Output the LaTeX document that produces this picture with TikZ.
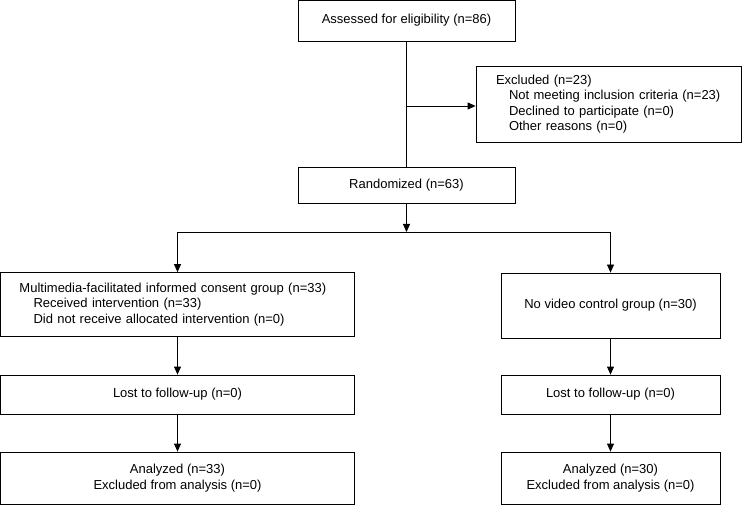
\documentclass[tikz,border=0pt]{standalone}
\usepackage{fontspec}
\setmainfont{Liberation Sans}
\usetikzlibrary{arrows.meta}
\begin{document}
\begin{tikzpicture}[x=1pt,y=-1pt,
  every node/.style={font=\fontsize{13}{15.5}\selectfont},
  box/.style={draw, line width=0.8pt, inner sep=0pt, anchor=center, align=center},
  line/.style={line width=0.8pt},
  arr/.style={line width=0.8pt, -{Triangle[length=8pt,width=7pt]}}]
\useasboundingbox (0,0) rectangle (742,505);
\node[box, minimum width=217, minimum height=41] (top) at (406.5,20.5) {Assessed for eligibility (n=86)};
\node[box, minimum height=76, inner xsep=20pt, text width=225pt, align=left] (excl) at (608.5,104)
  {Excluded (n=23)\\ \hspace*{13pt}Not meeting inclusion criteria (n=23)\\ \hspace*{13pt}Declined to participate (n=0)\\ \hspace*{13pt}Other reasons (n=0)};
\node[box, minimum width=217, minimum height=36] (rand) at (406.5,185) {Randomized (n=63)};
\node[box, minimum height=64, inner xsep=19pt, text width=316pt, align=left] (lg) at (177.5,304.5)
  {Multimedia-facilitated informed consent group (n=33)\\ \hspace*{14pt}Received intervention (n=33)\\ \hspace*{14pt}Did not receive allocated intervention (n=0)};
\node[box, minimum width=219, minimum height=65] (rg) at (610.5,305.5) {No video control group (n=30)};
\node[box, minimum width=354, minimum height=39] (ll) at (177.5,394.5) {Lost to follow-up (n=0)};
\node[box, minimum width=219, minimum height=39] (lr) at (610.5,394.5) {Lost to follow-up (n=0)};
\node[box, minimum width=354, minimum height=52] (al) at (177.5,478) {Analyzed (n=33)\\Excluded from analysis (n=0)};
\node[box, minimum width=219, minimum height=52] (ar) at (610.5,478) {Analyzed (n=30)\\Excluded from analysis (n=0)};
\coordinate (ex) at (406.5,106);
\coordinate (jc) at (406.5,232);
\draw[line] (top.south) -- (rand.north);
\draw[arr] (ex) -- (ex -| excl.west);
\draw[arr] (rand.south) -- (jc);
\draw[line] (lg.north |- jc) -- (rg.north |- jc);
\draw[arr] (lg.north |- jc) -- (lg.north);
\draw[arr] (rg.north |- jc) -- (rg.north);
\draw[arr] (lg.south) -- (ll.north);
\draw[arr] (rg.south) -- (lr.north);
\draw[arr] (ll.south) -- (al.north);
\draw[arr] (lr.south) -- (ar.north);
\end{tikzpicture}
\end{document}
